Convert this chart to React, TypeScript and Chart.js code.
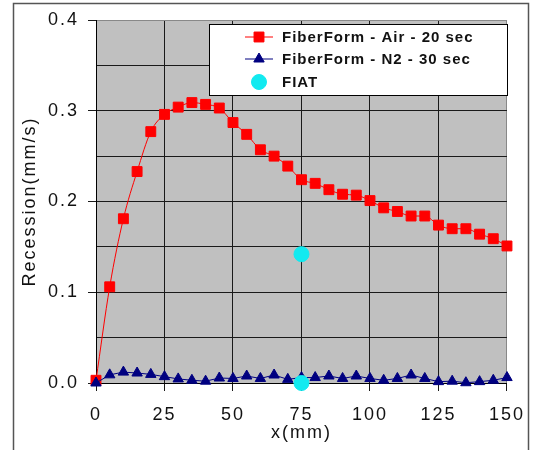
import React, { useEffect, useRef } from "react";
import { Chart, registerables } from "chart.js";
import { drawPoint } from "chart.js/helpers";

Chart.register(...registerables);

const xPositions = [0, 5, 10, 15, 20, 25, 30, 35, 40, 45, 50, 55, 60, 65, 70, 75, 80, 85, 90, 95, 100, 105, 110, 115, 120, 125, 130, 135, 140, 145, 150];
const airRecession = [0.003, 0.106, 0.181, 0.233, 0.277, 0.296, 0.304, 0.309, 0.307, 0.303, 0.287, 0.274, 0.257, 0.250, 0.239, 0.224, 0.220, 0.213, 0.208, 0.207, 0.201, 0.193, 0.189, 0.184, 0.184, 0.174, 0.170, 0.170, 0.164, 0.159, 0.151];
const n2Recession = [0.000, 0.009, 0.012, 0.011, 0.0095, 0.007, 0.0045, 0.003, 0.002, 0.0055, 0.005, 0.0077, 0.005, 0.0088, 0.004, 0.006, 0.006, 0.0077, 0.005, 0.0077, 0.005, 0.003, 0.005, 0.0088, 0.005, 0.0015, 0.002, 0.0003, 0.0015, 0.003, 0.006];
const fiatX = [75, 75];
const fiatRecession = [0.142, 0.0];
const seriesLabels = ["FiberForm - Air - 20 sec", "FiberForm - N2 - 30 sec", "FIAT"];
const xTitle = "x(mm)";
const yTitle = "Recession(mm/s)";

const FONT = "'Liberation Sans', Arial, sans-serif";

const backgroundPlugin = {
  id: "bgFrame",
  beforeDraw(chart: any) {
    const { ctx, chartArea } = chart;
    ctx.save();
    ctx.fillStyle = "#ffffff";
    ctx.fillRect(0, 0, chart.width, chart.height);
    ctx.strokeStyle = "#555555";
    ctx.lineWidth = 1.5;
    ctx.strokeRect(13.5, 3.5, 515, 470);
    ctx.fillStyle = "#c0c0c0";
    ctx.fillRect(chartArea.left, chartArea.top, chartArea.right - chartArea.left, chartArea.bottom - chartArea.top);
    ctx.restore();
    (ctx as any).letterSpacing = "2px";
  },
};

const legendPlugin = {
  id: "boxLegend",
  afterDraw(chart: any) {
    const { ctx } = chart;
    const left = 209, top = 24, right = 507, bottom = 95;
    ctx.save();
    ctx.fillStyle = "#ffffff";
    ctx.fillRect(left, top, right - left, bottom - top);
    ctx.strokeStyle = "#000000";
    ctx.lineWidth = 1;
    ctx.strokeRect(left + 0.5, top + 0.5, right - left, bottom - top);
    const rows = [37, 59, 82];
    chart.data.datasets.forEach((ds: any, i: number) => {
      const y = rows[i];
      if (ds.showLine !== false) {
        ctx.strokeStyle = ds.borderColor;
        ctx.lineWidth = 1;
        ctx.beginPath();
        ctx.moveTo(245, y);
        ctx.lineTo(273, y);
        ctx.stroke();
      }
      ctx.fillStyle = ds.pointBackgroundColor;
      ctx.strokeStyle = ds.pointBorderColor;
      ctx.lineWidth = 1;
      drawPoint(ctx, { pointStyle: ds.pointStyle, radius: ds.pointRadius, rotation: 0, borderWidth: 1 }, 259, y);
      ctx.fillStyle = "#111111";
      ctx.font = `bold 15px ${FONT}`;
      (ctx as any).letterSpacing = "1px";
      ctx.textBaseline = "middle";
      ctx.textAlign = "left";
      ctx.fillText(ds.label, 282, y + 1);
    });
    ctx.restore();
  },
};

const isMajorY = (v: number) => Math.abs(v * 10 - Math.round(v * 10)) < 1e-6;

export default function App() {
  const canvasRef = useRef<HTMLCanvasElement | null>(null);
  useEffect(() => {
    if (!canvasRef.current) return;
    const chart = new Chart(canvasRef.current, {
      type: "scatter",
      data: {
        datasets: [
          {
            label: seriesLabels[0],
            data: xPositions.map((x, i) => ({ x, y: airRecession[i] })),
            showLine: true,
            borderColor: "#ff0000",
            borderWidth: 1,
            pointStyle: "rect",
            pointRadius: 7,
            pointBackgroundColor: "#ff0000",
            pointBorderColor: "#ff0000",
            cubicInterpolationMode: "monotone",
            clip: false,
            order: 2,
          },
          {
            label: seriesLabels[1],
            data: xPositions.map((x, i) => ({ x, y: n2Recession[i] })),
            showLine: true,
            borderColor: "#000080",
            borderWidth: 1,
            pointStyle: "triangle",
            pointRadius: 6,
            pointBackgroundColor: "#000080",
            pointBorderColor: "#000080",
            clip: false,
            order: 1,
          },
          {
            label: seriesLabels[2],
            data: fiatX.map((x, i) => ({ x, y: fiatRecession[i] })),
            showLine: false,
            pointStyle: "circle",
            pointRadius: 7.5,
            pointBackgroundColor: "#12eaf0",
            pointBorderColor: "#12eaf0",
            clip: false,
            order: 0,
          },
        ] as any,
      },
      options: {
        animation: false,
        responsive: false,
        maintainAspectRatio: false,
        layout: { padding: { left: 0, top: 20, right: 27, bottom: 0 } },
        plugins: { legend: { display: false }, tooltip: { enabled: false } },
        scales: {
          x: {
            type: "linear",
            min: 0,
            max: 150,
            afterFit(scale: any) {
              scale.height = 67;
            },
            ticks: {
              stepSize: 25,
              color: "#111111",
              font: { family: FONT, size: 18 },
              padding: 13,
              maxRotation: 0,
            },
            grid: {
              color: (ctx: any) => (ctx.tick && ctx.tick.value === 150 ? "#888888" : "#1a1a1a"),
              lineWidth: 1,
              tickLength: 8,
              tickColor: "#1a1a1a",
            },
            border: { color: "#000000", width: 1 },
            title: {
              display: true,
              text: xTitle,
              color: "#111111",
              font: { family: FONT, size: 18 },
              padding: { top: 0, bottom: 6 },
            },
          },
          y: {
            type: "linear",
            min: 0,
            max: 0.4,
            afterFit(scale: any) {
              scale.width = 96;
            },
            ticks: {
              stepSize: 0.05,
              color: "#111111",
              font: { family: FONT, size: 18 },
              padding: 9,
              callback: (v: any) => (isMajorY(Number(v)) ? Number(v).toFixed(1) : ""),
            },
            grid: {
              color: (ctx: any) => (ctx.tick && Math.abs(ctx.tick.value - 0.4) < 1e-6 ? "#888888" : "#1a1a1a"),
              lineWidth: 1,
              tickLength: 8,
              tickColor: (ctx: any) => (ctx.tick && isMajorY(ctx.tick.value) ? "#1a1a1a" : "rgba(0,0,0,0)"),
            },
            border: { color: "#000000", width: 1 },
            title: {
              display: true,
              text: yTitle,
              color: "#111111",
              font: { family: FONT, size: 18 },
              padding: { top: 19, bottom: 0 },
            },
          },
        },
      } as any,
      plugins: [backgroundPlugin, legendPlugin],
    });
    return () => chart.destroy();
  }, []);
  return (
    <div style={{ position: "absolute", left: 0, top: 0, width: 535, height: 450 }}>
      <canvas ref={canvasRef} width={535} height={450} style={{ width: 535, height: 450 }} />
    </div>
  );
}
